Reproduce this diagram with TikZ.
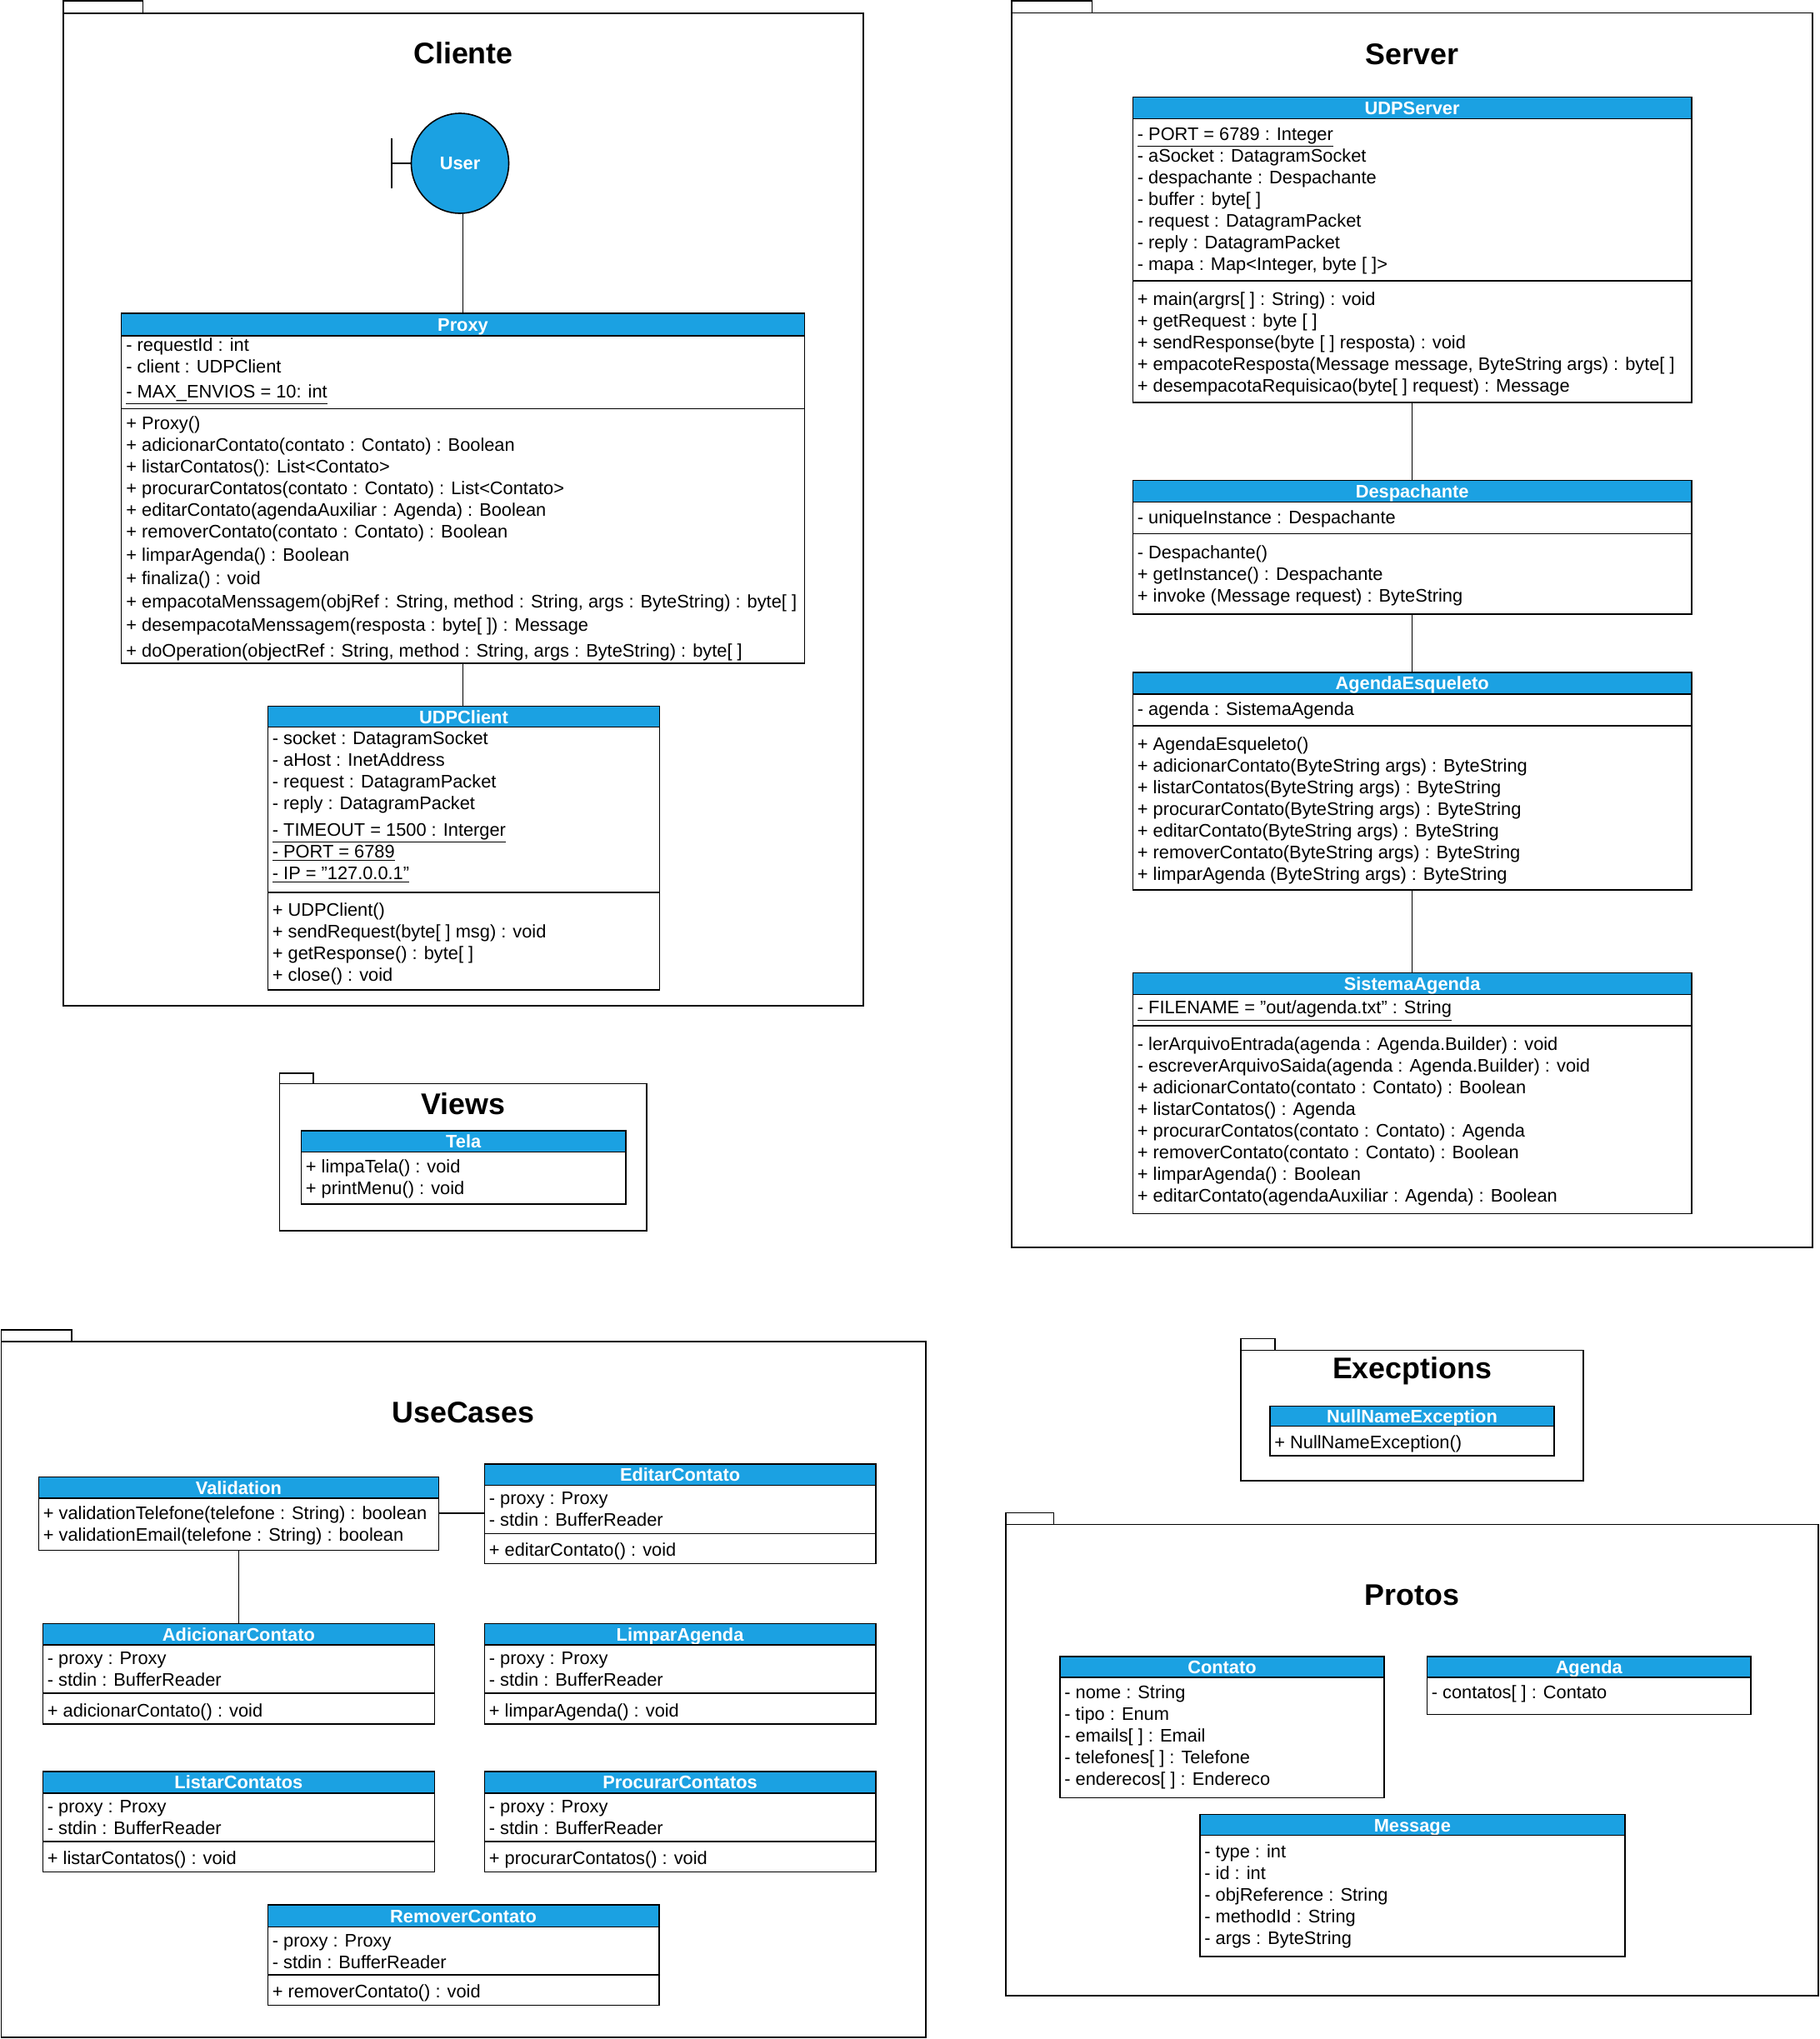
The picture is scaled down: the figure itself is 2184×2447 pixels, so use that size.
\documentclass[tikz,border=0pt]{standalone}
\usepackage{fontspec}
\setmainfont{Liberation Sans}
\definecolor{umlCyan}{HTML}{1BA1E2}
\usetikzlibrary{shapes.geometric}
\tikzset{
  boxsize/.style 2 args={minimum width=#1*0.5pt,minimum height=#2*0.5pt},
  pkgbox/.style={rectangle,draw=black,line width=0.8pt,fill=white,anchor=north west,inner sep=0pt,outer sep=0pt},
  pkgtitle/.style={font=\fontsize{17.9}{21}\selectfont\bfseries,inner sep=0pt},
  classhead/.style={rectangle,draw=black,line width=0.8pt,fill=umlCyan,text=white,anchor=north west,inner sep=0pt,outer sep=0pt,align=center,text height=10pt,text depth=2pt,font=\fontsize{10.9}{13}\selectfont\bfseries},
  classbody/.style={rectangle,draw=black,line width=0.8pt,fill=white,anchor=north west,inner sep=0pt,outer sep=0pt},
  classtext/.style={anchor=west,inner sep=0pt,align=left,font=\fontsize{10.9}{13}\selectfont},
  boundary/.style={ellipse,draw=black,line width=0.8pt,fill=umlCyan,text=white,inner sep=0pt,outer sep=0pt,font=\fontsize{10.9}{13}\selectfont\bfseries},
  relation/.style={draw=black,line width=0.8pt},
}
\begin{document}
\begin{tikzpicture}[x=0.5pt,y=-0.5pt]
  \useasboundingbox (0,0) rectangle (2184,2447);

  \node[pkgbox, boxsize={95.6}{14.7}] (clienteTab) at (76,1) {};
  \node[pkgbox, boxsize={959.7}{1191}] (clienteFrame) at (76,15.7) {};
  \node[pkgtitle] (clienteTitle) at (556,64) {Cliente};
  \node[boundary, minimum width=58.5pt, minimum height=60pt] (userCircle) at (552,196) {User};
  \coordinate (userStemTop) at (470,166);
  \coordinate (userStemBottom) at (470,226);
  \draw[relation] (userStemTop) -- (userStemBottom);
  \draw[relation] (userCircle.west) -- (userCircle.west -| userStemTop);

  \node[classhead, boxsize={820}{27}] (proxyHead) at (145.5,376) {Proxy};
  \node[classbody, boxsize={820}{87.5}] (proxyFields) at (145.5,403) {};
  \node[classbody, boxsize={820}{305.5}] (proxyMethods) at (145.5,490.5) {};
  \node[classtext] (proxyFieldsText) at (151,445.5) {- requestId : int\\- client : UDPClient\\[2pt]\underline{- MAX\_ENVIOS = 10: int}};
  \node[classtext] (proxyMethodsText) at (151,646.5) {+ Proxy()\\+ adicionarContato(contato : Contato) : Boolean\\+ listarContatos(): List<Contato>\\+ procurarContatos(contato : Contato) : List<Contato>\\+ editarContato(agendaAuxiliar : Agenda) : Boolean\\+ removerContato(contato : Contato) : Boolean\\[1pt]+ limparAgenda() : Boolean\\[1pt]+ finaliza() : void\\[1pt]+ empacotaMenssagem(objRef : String, method : String, args : ByteString) : byte[ ]\\[1pt]+ desempacotaMenssagem(resposta : byte[ ]) : Message\\[2.7pt]+ doOperation(objectRef : String, method : String, args : ByteString) : byte[ ]};

  \node[classhead, boxsize={470}{25}] (udpClientHead) at (321.5,847.6) {UDPClient};
  \node[classbody, boxsize={470}{198.4}] (udpClientFields) at (321.5,872.6) {};
  \node[classbody, boxsize={470}{117}] (udpClientMethods) at (321.5,1071) {};
  \node[classtext] (udpClientFieldsText) at (326.5,968.5) {- socket : DatagramSocket\\- aHost : InetAddress\\- request : DatagramPacket\\- reply : DatagramPacket\\[2.7pt]\underline{- TIMEOUT = 1500 : Interger}\\\underline{- PORT = 6789}\\\underline{- IP = "127.0.0.1"}};
  \node[classtext] (udpClientMethodsText) at (326.5,1133) {+ UDPClient()\\+ sendRequest(byte[ ] msg) : void\\+ getResponse() : byte[ ]\\+ close() : void};

  \node[pkgbox, boxsize={40.4}{12.5}] (viewsTab) at (335.6,1288) {};
  \node[pkgbox, boxsize={440.4}{176.5}] (viewsFrame) at (335.6,1300.5) {};
  \node[pkgtitle] (viewsTitle) at (556,1325) {Views};
  \node[classhead, boxsize={389.6}{25.5}] (telaHead) at (361.4,1357) {Tela};
  \node[classbody, boxsize={389.6}{62.5}] (telaMethods) at (361.4,1382.5) {};
  \node[classtext] (telaMethodsText) at (366.5,1415) {+ limpaTela() : void\\+ printMenu() : void};

  \node[pkgbox, boxsize={96.7}{14.3}] (serverTab) at (1213.8,1) {};
  \node[pkgbox, boxsize={961.2}{1481.7}] (serverFrame) at (1213.8,15.3) {};
  \node[pkgtitle] (serverTitle) at (1694.5,65) {Server};

  \node[classhead, boxsize={670.5}{26}] (udpServerHead) at (1359.4,116.3) {UDPServer};
  \node[classbody, boxsize={670.5}{194.4}] (udpServerFields) at (1359.4,142.3) {};
  \node[classbody, boxsize={670.5}{146}] (udpServerMethods) at (1359.4,336.7) {};
  \node[classtext] (udpServerFieldsText) at (1364.5,240.8) {\underline{- PORT = 6789 : Integer}\\- aSocket : DatagramSocket\\- despachante : Despachante\\- buffer : byte[ ]\\- request : DatagramPacket\\- reply : DatagramPacket\\- mapa : Map<Integer, byte [ ]>};
  \node[classtext] (udpServerMethodsText) at (1364.5,412.8) {+ main(argrs[ ] : String) : void\\+ getRequest : byte [ ]\\+ sendResponse(byte [ ] resposta) : void\\+ empacoteResposta(Message message, ByteString args) : byte[ ]\\+ desempacotaRequisicao(byte[ ] request) : Message};

  \node[classhead, boxsize={670.5}{26}] (despachanteHead) at (1359.4,576.5) {Despachante};
  \node[classbody, boxsize={670.5}{37.7}] (despachanteFields) at (1359.4,602.6) {};
  \node[classbody, boxsize={670.5}{96.4}] (despachanteMethods) at (1359.4,640.3) {};
  \node[classtext] (despachanteFieldsText) at (1364.5,623) {- uniqueInstance : Despachante};
  \node[classtext] (despachanteMethodsText) at (1364.5,690.8) {- Despachante()\\+ getInstance() : Despachante\\+ invoke (Message request) : ByteString};

  \node[classhead, boxsize={670.5}{25.8}] (esqueletoHead) at (1359.4,807) {AgendaEsqueleto};
  \node[classbody, boxsize={670.5}{38.2}] (esqueletoFields) at (1359.4,832.8) {};
  \node[classbody, boxsize={670.5}{196.7}] (esqueletoMethods) at (1359.4,871) {};
  \node[classtext] (esqueletoFieldsText) at (1364.5,853) {- agenda : SistemaAgenda};
  \node[classtext] (esqueletoMethodsText) at (1364.5,973) {+ AgendaEsqueleto()\\+ adicionarContato(ByteString args) : ByteString\\+ listarContatos(ByteString args) : ByteString\\+ procurarContato(ByteString args) : ByteString\\+ editarContato(ByteString args) : ByteString\\+ removerContato(ByteString args) : ByteString\\+ limparAgenda (ByteString args) : ByteString};

  \node[classhead, boxsize={670.5}{25.8}] (sistemaHead) at (1359.4,1167.6) {SistemaAgenda};
  \node[classbody, boxsize={670.5}{37.5}] (sistemaFields) at (1359.4,1193.4) {};
  \node[classbody, boxsize={670.5}{225.5}] (sistemaMethods) at (1359.4,1230.9) {};
  \node[classtext] (sistemaFieldsText) at (1364.5,1213) {\underline{- FILENAME = "out/agenda.txt" : String}};
  \node[classtext] (sistemaMethodsText) at (1364.5,1346) {- lerArquivoEntrada(agenda : Agenda.Builder) : void\\- escreverArquivoSaida(agenda : Agenda.Builder) : void\\+ adicionarContato(contato : Contato) : Boolean\\+ listarContatos() : Agenda\\+ procurarContatos(contato : Contato) : Agenda\\+ removerContato(contato : Contato) : Boolean\\+ limparAgenda() : Boolean\\+ editarContato(agendaAuxiliar : Agenda) : Boolean};

  \node[pkgbox, boxsize={84.6}{14}] (useCasesTab) at (1.4,1596) {};
  \node[pkgbox, boxsize={1109.6}{835}] (useCasesFrame) at (1.4,1610) {};
  \node[pkgtitle] (useCasesTitle) at (556,1695) {UseCases};

  \node[classhead, boxsize={480}{25.5}] (validationHead) at (46.4,1772.5) {Validation};
  \node[classbody, boxsize={480}{62.5}] (validationMethods) at (46.4,1798) {};
  \node[classtext] (validationMethodsText) at (51.5,1831) {+ validationTelefone(telefone : String) : boolean\\+ validationEmail(telefone : String) : boolean};
  \coordinate (validationPort) at (526.4,1816);

  \node[classhead, boxsize={469.3}{25.6}] (editarHead) at (581.4,1756.7) {EditarContato};
  \node[classbody, boxsize={469.3}{58}] (editarFields) at (581.4,1782.3) {};
  \node[classbody, boxsize={469.3}{36}] (editarMethods) at (581.4,1840.3) {};
  \node[classtext] (editarFieldsText) at (586.5,1811.5) {- proxy : Proxy\\- stdin : BufferReader};
  \node[classtext] (editarMethodsText) at (586.5,1862) {+ editarContato() : void};

  \node[classhead, boxsize={470}{25.5}] (adicionarHead) at (51.4,1948.5) {AdicionarContato};
  \node[classbody, boxsize={470}{58}] (adicionarFields) at (51.4,1974) {};
  \node[classbody, boxsize={470}{36.7}] (adicionarMethods) at (51.4,2032) {};
  \node[classtext] (adicionarFieldsText) at (56.5,2003.3) {- proxy : Proxy\\- stdin : BufferReader};
  \node[classtext] (adicionarMethodsText) at (56.5,2054.5) {+ adicionarContato() : void};

  \node[classhead, boxsize={469.3}{25.5}] (limparHead) at (581.4,1948.5) {LimparAgenda};
  \node[classbody, boxsize={469.3}{58}] (limparFields) at (581.4,1974) {};
  \node[classbody, boxsize={469.3}{36.7}] (limparMethods) at (581.4,2032) {};
  \node[classtext] (limparFieldsText) at (586.5,2003.3) {- proxy : Proxy\\- stdin : BufferReader};
  \node[classtext] (limparMethodsText) at (586.5,2054.5) {+ limparAgenda() : void};

  \node[classhead, boxsize={470}{25.7}] (listarHead) at (51.4,2126) {ListarContatos};
  \node[classbody, boxsize={470}{58.3}] (listarFields) at (51.4,2151.7) {};
  \node[classbody, boxsize={470}{36.3}] (listarMethods) at (51.4,2210) {};
  \node[classtext] (listarFieldsText) at (56.5,2181.5) {- proxy : Proxy\\- stdin : BufferReader};
  \node[classtext] (listarMethodsText) at (56.5,2232) {+ listarContatos() : void};

  \node[classhead, boxsize={469.3}{25.7}] (procurarHead) at (581.4,2126) {ProcurarContatos};
  \node[classbody, boxsize={469.3}{58.3}] (procurarFields) at (581.4,2151.7) {};
  \node[classbody, boxsize={469.3}{36.3}] (procurarMethods) at (581.4,2210) {};
  \node[classtext] (procurarFieldsText) at (586.5,2181.5) {- proxy : Proxy\\- stdin : BufferReader};
  \node[classtext] (procurarMethodsText) at (586.5,2232) {+ procurarContatos() : void};

  \node[classhead, boxsize={469.3}{26.4}] (removerHead) at (321.4,2286) {RemoverContato};
  \node[classbody, boxsize={469.3}{57.4}] (removerFields) at (321.4,2312.4) {};
  \node[classbody, boxsize={469.3}{36.6}] (removerMethods) at (321.4,2369.8) {};
  \node[classtext] (removerFieldsText) at (326.5,2341.7) {- proxy : Proxy\\- stdin : BufferReader};
  \node[classtext] (removerMethodsText) at (326.5,2392.2) {+ removerContato() : void};

  \node[pkgbox, boxsize={41}{13.9}] (execptionsTab) at (1489,1606.5) {};
  \node[pkgbox, boxsize={411}{156.6}] (execptionsFrame) at (1489,1620.4) {};
  \node[pkgtitle] (execptionsTitle) at (1694.5,1645) {Execptions};
  \node[classhead, boxsize={341}{24.1}] (nullNameHead) at (1524,1687.5) {NullNameException};
  \node[classbody, boxsize={341}{35.4}] (nullNameMethods) at (1524,1711.6) {};
  \node[classtext] (nullNameMethodsText) at (1529,1733) {+ NullNameException()};

  \node[pkgbox, boxsize={57.8}{14}] (protosTab) at (1206.7,1815.5) {};
  \node[pkgbox, boxsize={975.3}{565.5}] (protosFrame) at (1206.7,1829.5) {};
  \node[pkgtitle] (protosTitle) at (1694.5,1914.6) {Protos};

  \node[classhead, boxsize={389}{25}] (contatoHead) at (1272,1988) {Contato};
  \node[classbody, boxsize={389}{144.3}] (contatoFields) at (1272,2013) {};
  \node[classtext] (contatoFieldsText) at (1277,2085) {- nome : String\\- tipo : Enum\\- emails[ ] : Email\\- telefones[ ] : Telefone\\- enderecos[ ] : Endereco};

  \node[classhead, boxsize={388.6}{25}] (agendaHead) at (1712.4,1988) {Agenda};
  \node[classbody, boxsize={388.6}{44.4}] (agendaFields) at (1712.4,2013) {};
  \node[classtext] (agendaFieldsText) at (1717.5,2033) {- contatos[ ] : Contato};

  \node[classhead, boxsize={509.7}{25}] (messageHead) at (1440,2177.6) {Message};
  \node[classbody, boxsize={509.7}{145.1}] (messageFields) at (1440,2202.6) {};
  \node[classtext] (messageFieldsText) at (1445,2275.5) {- type : int\\- id : int\\- objReference : String\\- methodId : String\\- args : ByteString};

  \draw[relation] (proxyHead.north) -- (proxyHead.north |- userCircle.south);
  \draw[relation] (proxyMethods.south) -- (proxyMethods.south |- udpClientHead.north);
  \draw[relation] (udpServerMethods.south) -- (despachanteHead.north);
  \draw[relation] (despachanteMethods.south) -- (esqueletoHead.north);
  \draw[relation] (esqueletoMethods.south) -- (sistemaHead.north);
  \draw[relation] (validationPort) -- (validationPort -| editarFields.west);
  \draw[relation] (validationMethods.south) -- (validationMethods.south |- adicionarHead.north);
\end{tikzpicture}
\end{document}
